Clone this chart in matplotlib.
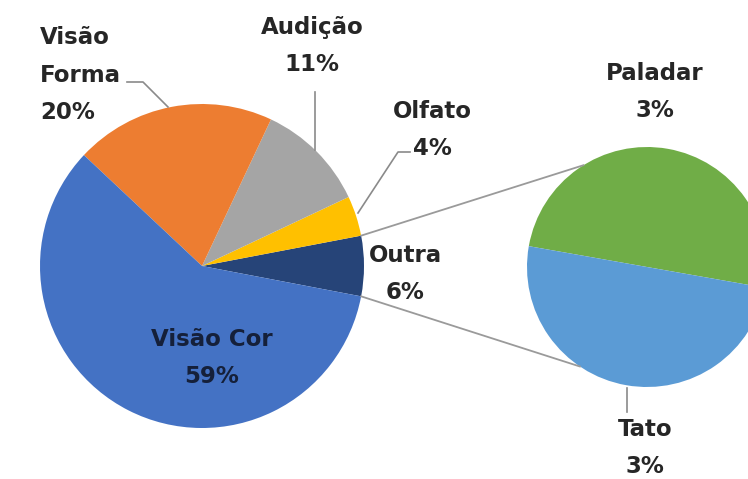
import numpy as np
import matplotlib
matplotlib.use("Agg")
import matplotlib.pyplot as plt

# main pie, counter-clockwise from the "Outra" slice
main_labels = ["Outra", "Olfato", "Audição", "Visão\nForma", "Visão Cor"]
main_values = [6, 4, 11, 20, 59]
main_colors = ["#264478", "#FFC000", "#A5A5A5", "#ED7D31", "#4472C4"]

# breakdown of "Outra"
sub_labels = ["Paladar", "Tato"]
sub_values = [3, 3]
sub_colors = ["#70AD47", "#5B9BD5"]

W, H = 748, 479
fig = plt.figure(figsize=(W / 100, H / 100), dpi=100)
ax = fig.add_axes([0, 0, 1, 1])

main_c, main_r = (202, H - 266), 162
sub_c, sub_r = (647, H - 267), 120

start = -360 * main_values[0] / sum(main_values) / 2
wedges, _ = ax.pie(main_values, colors=main_colors, startangle=start,
                   center=main_c, radius=main_r, counterclock=True,
                   wedgeprops=dict(linewidth=0), frame=True)
sub_wedges, _ = ax.pie(sub_values, colors=sub_colors, startangle=-10,
                       center=sub_c, radius=sub_r, counterclock=True,
                       wedgeprops=dict(linewidth=0), frame=True)
ax.set_xlim(0, W)
ax.set_ylim(0, H)
ax.set_aspect("equal")
ax.axis("off")


def on_circle(c, r, deg):
    t = np.radians(deg)
    return c[0] + r * np.cos(t), c[1] + r * np.sin(t)


# connector lines from the "Outra" slice to the second pie
w = wedges[0]
for a_main, a_sub in [(w.theta2, 122), (w.theta1, 236)]:
    x0, y0 = on_circle(main_c, main_r, a_main)
    x1, y1 = on_circle(sub_c, sub_r, a_sub)
    ax.plot([x0, x1], [y0, y1], color="#9a9a9a", lw=1.3, zorder=1)

txt_kw = dict(fontsize=16.5, fontweight="bold", color="#262626",
              family="DejaVu Sans", linespacing=1.82)

# label positions (x, y from top), alignment
main_pos = [(405, 274, "center"), (432, 130, "center"), (312, 46, "center"),
            (40, 75, "left"), (212, 358, "center")]
for lab, val, (x, y, ha) in zip(main_labels, main_values, main_pos):
    kw = dict(txt_kw)
    if lab == "Visão Cor":
        kw["color"] = "#15203a"
    ax.text(x, H - y, f"{lab}\n{val}%", ha=ha, va="center", **kw)

sub_pos = [(655, 92), (645, 448)]
for lab, val, (x, y) in zip(sub_labels, sub_values, sub_pos):
    ax.text(x, H - y, f"{lab}\n{val}%", ha="center", va="center", **txt_kw)

# leader lines
leaders = [
    [(127, 82), (143, 82), (168, 107)],
    [(315, 92), (315, 150)],
    [(410, 152), (398, 152), (358, 213)],
    [(627, 388), (627, 412)],
]
for pts in leaders:
    xs, ys = zip(*pts)
    ax.plot(xs, [H - y for y in ys], color="#8a8a8a", lw=1.2, zorder=3)

fig.savefig("out.png", dpi=100, facecolor="white")
